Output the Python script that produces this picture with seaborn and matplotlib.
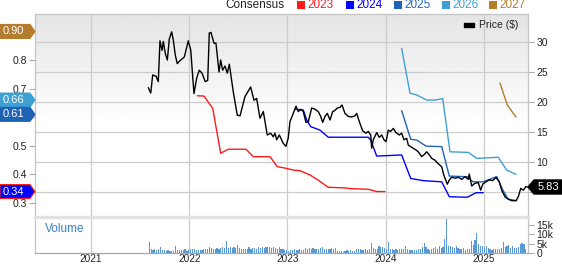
import numpy as np
import matplotlib
matplotlib.use("Agg")
import matplotlib.pyplot as plt
import matplotlib.transforms as mtransforms
from matplotlib.patches import Polygon, Rectangle
import seaborn as sns

# ---------------- data ----------------
price_t = [2021.583, 2021.608, 2021.628, 2021.662, 2021.685, 2021.702, 2021.723, 2021.736, 2021.756,
           2021.777, 2021.797, 2021.821, 2021.838, 2021.858, 2021.878, 2021.906, 2021.950, 2021.990,
           2022.015, 2022.048, 2022.076, 2022.102, 2022.130, 2022.163, 2022.188, 2022.204, 2022.221,
           2022.252, 2022.272, 2022.303, 2022.320, 2022.340, 2022.364, 2022.387, 2022.408, 2022.448,
           2022.489, 2022.517, 2022.567, 2022.625, 2022.659, 2022.686, 2022.720, 2022.754, 2022.794,
           2022.829, 2022.855, 2022.873, 2022.890, 2022.917, 2022.957, 2022.984, 2023.008, 2023.025,
           2023.059, 2023.087, 2023.110, 2023.134, 2023.161, 2023.188, 2023.212, 2023.246, 2023.280,
           2023.313, 2023.338, 2023.358, 2023.382, 2023.405, 2023.433, 2023.460, 2023.483, 2023.507,
           2023.534, 2023.555, 2023.585, 2023.619, 2023.653, 2023.687, 2023.704, 2023.738, 2023.765,
           2023.799, 2023.822, 2023.847, 2023.857, 2023.873, 2023.908, 2023.934, 2023.959, 2023.982,
           2024.003, 2024.026, 2024.050, 2024.077, 2024.104, 2024.138, 2024.162, 2024.186, 2024.213,
           2024.230, 2024.254, 2024.280, 2024.308, 2024.331, 2024.366, 2024.389, 2024.417, 2024.443,
           2024.468, 2024.501, 2024.535, 2024.570, 2024.586, 2024.603, 2024.627, 2024.647, 2024.671,
           2024.705, 2024.739, 2024.773, 2024.807, 2024.840, 2024.850, 2024.875, 2024.908, 2024.942,
           2024.966, 2024.987, 2025.020, 2025.054, 2025.089, 2025.122, 2025.156, 2025.180, 2025.214,
           2025.247, 2025.282, 2025.326, 2025.349, 2025.374, 2025.400, 2025.427, 2025.440]
price = [22.4, 21.5, 24.5, 24.3, 23.4, 30.2, 28.6, 30.1, 28.1,
         27.0, 30.5, 31.7, 30.3, 27.8, 26.4, 26.9, 27.5, 30.2,
         28.7, 21.4, 24.0, 25.3, 24.8, 23.4, 23.6, 31.5, 31.6,
         29.8, 29.8, 25.0, 27.0, 25.3, 26.0, 24.8, 26.3, 21.7,
         17.8, 17.7, 20.9, 22.5, 20.3, 20.6, 17.3, 18.4, 14.5,
         14.8, 14.2, 14.8, 13.7, 14.5, 13.1, 12.6, 14.0, 16.7,
         18.1, 19.3, 18.4, 18.8, 18.4, 16.6, 16.7, 19.0, 18.8,
         18.4, 17.6, 16.6, 17.6, 18.1, 17.0, 18.4, 18.6, 19.0,
         19.1, 19.5, 18.1, 17.6, 17.5, 17.7, 18.1, 16.4, 15.2,
         14.8, 15.1, 14.5, 12.3, 13.7, 14.9, 14.1, 14.5, 13.7,
         13.4, 15.3, 15.1, 15.6, 14.9, 14.5, 14.8, 13.7, 13.95,
         12.8, 12.55, 12.3, 12.0, 11.7, 10.9, 11.2, 11.7, 11.2,
         10.6, 10.3, 9.7, 9.2, 8.1, 7.3, 6.3, 7.0, 7.45,
         7.3, 7.45, 7.1, 7.55, 7.1, 8.0, 6.0, 6.45, 6.55,
         5.3, 6.3, 6.7, 7.0, 6.9, 7.45, 6.7, 5.3, 4.2,
         3.8, 3.55, 3.55, 4.2, 5.6, 5.3, 5.9, 5.83]

eps2023_t = [2022.082, 2022.150, 2022.239, 2022.320, 2022.397, 2022.578, 2022.652, 2022.822, 2022.896,
             2022.992, 2023.059, 2023.127, 2023.229, 2023.313, 2023.415, 2023.568, 2023.653, 2023.822,
             2023.908, 2023.992]
eps2023 = [0.675, 0.674, 0.631, 0.474, 0.488, 0.488, 0.462, 0.462, 0.427,
           0.421, 0.415, 0.413, 0.398, 0.380, 0.355, 0.353, 0.350, 0.348,
           0.340, 0.340]

eps2024_t = [2023.076, 2023.161, 2023.196, 2023.236, 2023.331, 2023.415, 2023.822, 2023.847, 2023.908,
             2024.162, 2024.254, 2024.383, 2024.570, 2024.647, 2024.830, 2024.919, 2024.993]
eps2024 = [0.628, 0.625, 0.590, 0.567, 0.555, 0.530, 0.530, 0.520, 0.464,
           0.468, 0.386, 0.378, 0.374, 0.322, 0.320, 0.336, 0.336]

eps2025_t = [2024.162, 2024.254, 2024.315, 2024.410, 2024.570, 2024.647, 2024.830, 2024.888, 2024.990,
             2025.129, 2025.193, 2025.244, 2025.333]
eps2025 = [0.623, 0.523, 0.520, 0.499, 0.497, 0.394, 0.392, 0.374, 0.374,
           0.392, 0.345, 0.314, 0.308]

eps2026_t = [2024.162, 2024.247, 2024.315, 2024.417, 2024.501, 2024.580, 2024.654, 2024.840, 2024.926,
             2025.145, 2025.231, 2025.326]
eps2026 = [0.841, 0.684, 0.678, 0.660, 0.660, 0.665, 0.479, 0.477, 0.456,
           0.460, 0.415, 0.400]

eps2027_t = [2025.163, 2025.237, 2025.326]
eps2027 = [0.719, 0.643, 0.600]

consensus_years = ["2023", "2024", "2025", "2026", "2027"]
badge_values = [0.90, 0.66, 0.61, 0.34]
badge_labels = ["0.90", "0.66", "0.61", "0.34"]
last_price = 5.83

eps_ticks = [0.3, 0.4, 0.5, 0.6, 0.7, 0.8, 0.9]
eps_tick_labels = ["0.3", "0.4", "0.5", "", "0.7", "0.8", ""]   # 0.6 / 0.9 hidden by badges
price_ticks = [5, 10, 15, 20, 25, 30]
price_tick_labels = ["", "10", "15", "20", "25", "30"]          # 5 hidden by price badge

volume_start = 2021.593  # first weekly bar (decimal year)
volume_k = [6.0, 2.2, 1.8, 2.0, 1.6, 1.9, 3.3, 1.5, 1.8, 1.2,
            1.4, 0.9, 1.1, 1.3, 3.7, 1.6, 1.7, 1.5, 1.4, 1.9,
            1.3, 1.6, 2.0, 2.3, 1.9, 1.6, 1.4, 1.8, 1.6, 2.1,
            1.9, 2.4, 3.0, 2.6, 2.0, 2.4, 2.9, 2.2, 2.7, 3.0,
            2.5, 6.7, 2.8, 3.4, 2.6, 3.1, 2.9, 4.4, 2.6, 2.2,
            2.1, 2.0, 2.4, 3.1, 1.9, 2.5, 2.9, 2.4, 3.0, 2.6,
            3.3, 2.8, 3.0, 3.4, 3.1, 2.9, 3.2, 2.5, 2.0, 3.3,
            2.4, 1.9, 1.4, 1.6, 1.3, 1.8, 1.5, 1.9, 1.4, 1.7,
            2.2, 1.6, 1.8, 2.7, 2.3, 2.5, 2.1, 2.6, 2.0, 2.3,
            2.1, 2.5, 3.0, 2.2, 1.9, 2.4, 2.0, 2.7, 2.3, 2.8,
            1.2, 0.9, 1.0, 0.8, 1.3, 1.6, 1.1, 1.4, 1.0, 1.2,
            2.4, 2.2, 1.9, 1.7, 1.5, 2.0, 1.8, 2.3, 5.5, 2.6,
            2.0, 2.4, 4.0, 3.4, 3.2, 2.7, 2.3, 6.0, 2.1, 2.3,
            1.8, 2.1, 1.6, 2.4, 1.9, 2.2, 3.7, 2.3, 1.8, 1.6,
            1.7, 1.5, 1.6, 1.9, 2.2, 3.1, 5.2, 3.0, 1.9, 1.4,
            2.1, 2.9, 3.4, 2.3, 3.6, 2.7, 3.3, 7.4, 18.0, 4.0,
            3.8, 3.1, 2.8, 3.5, 2.5, 2.2, 2.0, 2.6, 1.8, 2.0,
            2.4, 6.5, 4.2, 7.0, 10.8, 5.0, 3.5, 4.0, 3.3, 3.6,
            2.6, 2.1, 1.8, 2.2, 1.9, 2.4, 2.0, 2.6, 5.9, 3.2,
            3.7, 4.3, 2.8, 3.6, 2.9, 2.5, 3.4, 4.6, 5.2, 5.0,
            2.0]
year_ticks = [2021, 2022, 2023, 2024, 2025]

# ---------------- style ----------------
sns.set_theme(style="white")
plt.rcParams['font.family'] = ['Liberation Sans', 'DejaVu Sans']

colors = {"2023": "#ff1a1a", "2024": "#0000ff", "2025": "#1f63b5",
          "2026": "#3ea0d2", "2027": "#b47c2c"}
badge_colors = [colors["2027"], colors["2026"], colors["2025"], colors["2024"]]
grid_c = "#cccccc"
spine_c = "#c4c4c4"
text_c = "#222222"

W, H = 562, 264
fig = plt.figure(figsize=(W / 100, H / 100), dpi=100)
L, R, T, B, VB = 35, 528, 14, 217, 253
rect_main = [L / W, 1 - B / H, (R - L) / W, (B - T) / H]
rect_vol = [L / W, 1 - VB / H, (R - L) / W, (VB - B) / H]
xlim = (2020.43, 2025.448)
price_lim = (0.83, 34.67)
eps_lim = (0.251, 0.961)

# background / grid / right price axis
ax_bg = fig.add_axes(rect_main)
ax_bg.set_xlim(xlim)
ax_bg.set_ylim(price_lim)
n = 300
r = np.linspace(0, 1, n)
g = 0.895 + (1 - 0.895) * np.clip(r / 0.55, 0, 1)
ax_bg.imshow(np.tile(g[:, None], (1, 2)), cmap="gray", vmin=0, vmax=1, aspect="auto",
             extent=[0, 1, 0, 1], transform=ax_bg.transAxes, zorder=0, interpolation="bilinear")
ax_bg.set_xticks(year_ticks)
ax_bg.set_yticks(price_ticks)
ax_bg.set_yticklabels(price_tick_labels)
ax_bg.yaxis.tick_right()
ax_bg.tick_params(axis="y", which="both", right=True, left=False, length=4, width=0.8,
                  color="#aaaaaa", labelsize=7.5, labelcolor=text_c, pad=2)
ax_bg.tick_params(axis="x", bottom=False, labelbottom=False)
ax_bg.grid(True, color=grid_c, lw=0.9)
ax_bg.set_axisbelow(True)
for s in ax_bg.spines.values():
    s.set_color(spine_c)
    s.set_linewidth(0.9)
ax_bg.spines["bottom"].set_visible(False)

# EPS consensus axis (left)
ax_e = fig.add_axes(rect_main, sharex=ax_bg)
ax_e.patch.set_visible(False)
ax_e.set_ylim(eps_lim)
for yr, tt, vv in [("2023", eps2023_t, eps2023), ("2024", eps2024_t, eps2024),
                   ("2025", eps2025_t, eps2025), ("2026", eps2026_t, eps2026),
                   ("2027", eps2027_t, eps2027)]:
    sns.lineplot(x=tt, y=vv, color=colors[yr], lw=1.0, ax=ax_e, legend=False)
ax_e.set_yticks(eps_ticks)
ax_e.set_yticklabels(eps_tick_labels)
ax_e.tick_params(axis="y", left=True, length=4, width=0.8, color="#aaaaaa",
                 labelsize=7.5, labelcolor=text_c, pad=2)
ax_e.tick_params(axis="x", bottom=False, labelbottom=False)
for s in ax_e.spines.values():
    s.set_visible(False)
ax_e.set_xlabel("")
ax_e.set_ylabel("")

# price axis (top layer)
ax_p = fig.add_axes(rect_main, sharex=ax_bg, sharey=ax_bg)
ax_p.patch.set_visible(False)
sns.lineplot(x=price_t, y=price, color="black", lw=1.0, ax=ax_p, legend=False)
ax_p.tick_params(left=False, right=False, bottom=False, labelleft=False, labelbottom=False,
                 labelright=False)
for s in ax_p.spines.values():
    s.set_visible(False)
ax_p.set_xlabel("")
ax_p.set_ylabel("")
ax_p.set_xlim(xlim)
ax_p.set_ylim(price_lim)

# "Price ($)" legend
ax_p.add_patch(Rectangle(((464 - L) / (R - L), 1 - (27 - T) / (B - T)), 10 / (R - L), 4 / (B - T),
                         transform=ax_p.transAxes, color="black", clip_on=False))
ax_p.text((479 - L) / (R - L), 1 - (25.5 - T) / (B - T), "Price ($)", transform=ax_p.transAxes,
          fontsize=7.5, color=text_c, va="center", ha="left")

# left badges (EPS consensus)
bt_e = mtransforms.blended_transform_factory(ax_p.transAxes, ax_e.transData)
hh_e = 7 * (eps_lim[1] - eps_lim[0]) / (B - T)
x0, x1, xt = -L / (R - L), (30 - L) / (R - L), 0.0
for val, lab, col in zip(badge_values, badge_labels, badge_colors):
    edge = colors["2023"] if lab == "0.34" else col
    poly = Polygon([(x0, val - hh_e), (x1, val - hh_e), (xt, val), (x1, val + hh_e), (x0, val + hh_e)],
                   closed=True, transform=bt_e, facecolor=col, edgecolor=edge, lw=0.8,
                   clip_on=False, zorder=10)
    ax_p.add_patch(poly)
    ax_p.text((x0 + x1) / 2 - 0.003, val, lab, transform=bt_e, color="white", fontsize=8,
              ha="center", va="center", zorder=11, clip_on=False)

# right badge (last price)
bt_p = mtransforms.blended_transform_factory(ax_p.transAxes, ax_p.transData)
hh_p = 7 * (price_lim[1] - price_lim[0]) / (B - T)
px1, px2 = (534 - L) / (R - L), (W - L) / (R - L)
ax_p.add_patch(Polygon([(1.0, last_price), (px1, last_price - hh_p), (px2, last_price - hh_p),
                        (px2, last_price + hh_p), (px1, last_price + hh_p)], closed=True,
                       transform=bt_p, facecolor="black", edgecolor="black", clip_on=False, zorder=10))
ax_p.text((px1 + px2) / 2, last_price, f"{last_price:.2f}", transform=bt_p, color="white",
          fontsize=8, ha="center", va="center", zorder=11, clip_on=False)

# volume panel
ax_v = fig.add_axes(rect_vol, sharex=ax_bg)
vol_t = volume_start + np.arange(len(volume_k)) * 7 / 365.25
ax_v.bar(vol_t, volume_k, width=0.012, color="#5a9ad4", linewidth=0, zorder=3)
ax_v.set_ylim(0, 19.3)
ax_v.set_xlim(xlim)
ax_v.set_yticks([0, 5, 10, 15])
ax_v.set_yticklabels(["0", "5k", "10k", "15k"])
ax_v.yaxis.tick_right()
ax_v.tick_params(axis="y", right=True, left=False, length=4, width=0.8, color="#aaaaaa",
                 labelsize=7.5, labelcolor=text_c, pad=2)
ax_v.set_xticks(year_ticks)
ax_v.set_xticklabels([str(y) for y in year_ticks])
ax_v.tick_params(axis="x", bottom=True, length=0, labelsize=7.2, labelcolor=text_c, pad=1)
ax_v.grid(True, axis="x", color=grid_c, lw=0.9)
ax_v.set_axisbelow(True)
ax_v.set_facecolor("white")
for k, s in ax_v.spines.items():
    s.set_color(spine_c)
    s.set_linewidth(0.9)
ax_v.spines["top"].set_color("#e2e2e2")
ax_v.spines["top"].set_linewidth(2.5)
ax_v.spines["bottom"].set_color("#a8a8a8")
ax_v.text((45 - L) / (R - L), (VB - 229) / (VB - B), "Volume", transform=ax_v.transAxes,
          color="#3a80c4", fontsize=8.5, va="center", ha="left")

# top consensus legend
def fx(px):
    return px / W

def fy(py):
    return 1 - py / H

fig.text(fx(225), fy(5), "Consensus", fontsize=8.5, color=text_c, va="center", ha="left")
sq_x = [297, 346, 394, 442, 489]
for yr, sx in zip(consensus_years, sq_x):
    fig.add_artist(Rectangle((fx(sx), fy(9)), 7.5 / W, 8 / H, transform=fig.transFigure,
                             facecolor=colors[yr], edgecolor="none"))
    fig.text(fx(sx + 10), fy(5), yr, fontsize=8.5, color=colors[yr], va="center", ha="left")

fig.savefig("out.png", dpi=100)
